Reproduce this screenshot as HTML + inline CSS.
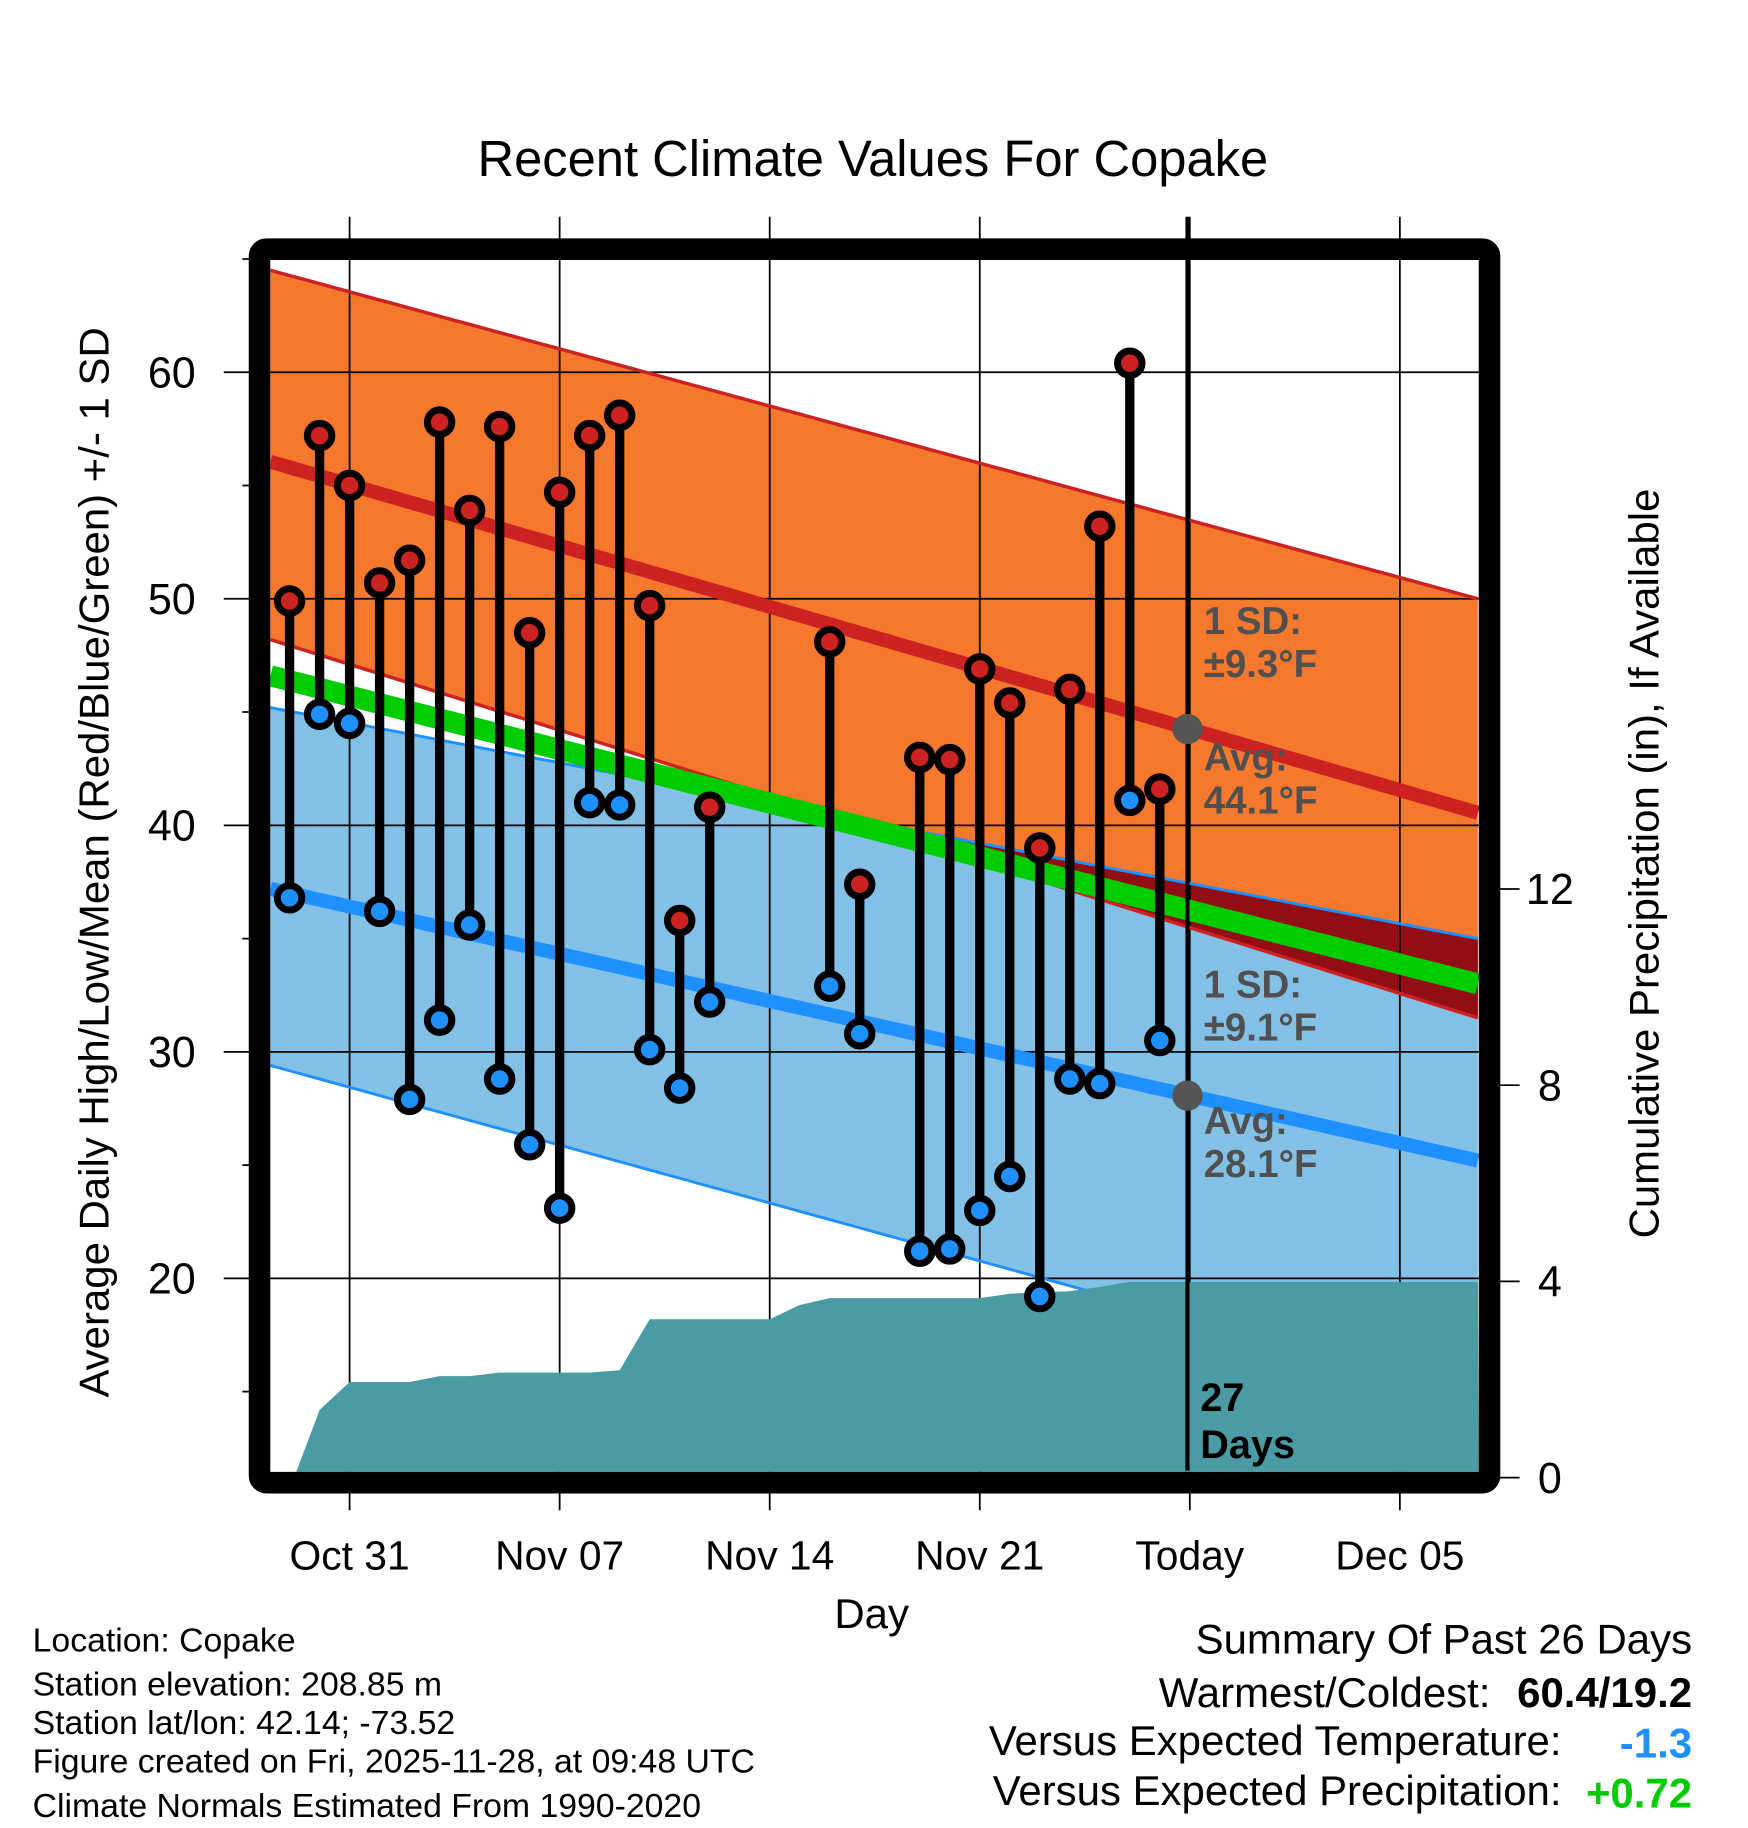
<!DOCTYPE html>
<html><head><meta charset="utf-8"><style>
html,body{margin:0;padding:0;background:#fff}
svg{display:block;font-family:"Liberation Sans",Arial,sans-serif}
</style></head><body>
<svg id="chart" width="1748" height="1828" viewBox="0 0 1500 1568.6" xmlns="http://www.w3.org/2000/svg">
<g id="fills"></g><g id="grid"></g><g id="lines"></g><g id="precip"></g><g id="marks"></g><g id="frame"></g><g id="labels"></g>
</svg>
<script>
// ---- data ----
const normDays = [-2.64, 17.5, 37.6];
const highPlusSD = [64.5, 57.25, 50.0];
const highMean = [56.05, 48.3, 40.55];
const highMinusSD = [48.2, 39.85, 31.5];
const lowPlusSD = [45.2, 40.1, 35.0];
const lowMean = [37.2, 31.2, 25.2];
const lowMinusSD = [29.4, 22.05, 14.7];
const overallMean = [46.6, 39.8, 33.0];
const obsDays = [-2,-1,0,1,2,3,4,5,6,7,8,9,10,11,12,16,17,19,20,21,22,23,24,25,26,27];
const obsHigh = [49.9,57.2,55.0,50.7,51.7,57.8,53.9,57.6,48.5,54.7,57.2,58.1,49.7,35.8,40.8,48.1,37.4,43.0,42.9,46.9,45.4,39.0,46.0,53.2,60.4,41.6];
const obsLow = [36.8,44.9,44.5,36.2,27.9,31.4,35.6,28.8,25.9,23.1,41.0,40.9,30.1,28.4,32.2,32.9,30.8,21.2,21.3,23.0,24.5,19.2,28.8,28.6,41.1,30.5];
const precipDays = [-1.85,-1,0,1,2,3,4,5,6,7,8,9,10,11,12,13,14,15,16,17,18,19,20,21,22,23,24,25,26,27,37.6];
const precipCum = [0,1.38,1.95,1.95,1.95,2.07,2.07,2.14,2.14,2.14,2.14,2.19,3.23,3.23,3.23,3.23,3.23,3.52,3.66,3.66,3.66,3.66,3.66,3.66,3.75,3.78,3.8,3.89,3.99,3.99,3.99];
const tempTicks = [20,30,40,50,60];
const precipTicks = [0,4,8,12];
const dateTicks = [0,7,14,21,28,35];
const dateLabels = ["Oct 31","Nov 07","Nov 14","Nov 21","Today","Dec 05"];

// ---- axes ----
const X0=232, X1=1269, Y0=223, Y1=1263;
const xd = d => 300 + 25.75*d;
const yT = t => 513.8 - (t-50)*19.44;
const yP = p => 1268 - p*42.1;
const NS="http://www.w3.org/2000/svg";
function mk(tag, attrs, parent){const e=document.createElementNS(NS,tag);for(const k in attrs)e.setAttribute(k,attrs[k]);document.getElementById(parent).appendChild(e);return e;}
function interp(arr,d){for(let i=0;i<normDays.length-1;i++){if(d<=normDays[i+1]||i==normDays.length-2){const f=(d-normDays[i])/(normDays[i+1]-normDays[i]);return arr[i]+f*(arr[i+1]-arr[i]);}}}
const samples=[];for(let i=0;i<=80;i++)samples.push(normDays[0]+(normDays[normDays.length-1]-normDays[0])*i/80);
function band(up,lo){let p=samples.map(d=>xd(d)+','+yT(interp(up,d)));let q=samples.slice().reverse().map(d=>xd(d)+','+yT(interp(lo,d)));return p.concat(q).join(' ');}
function line(arr){return samples.map(d=>xd(d)+','+yT(interp(arr,d))).join(' ');}

let e;
e=mk('polygon',{points:band(lowPlusSD,lowMinusSD),fill:'#82c0e6'},'fills');

e=mk('polygon',{points:band(highPlusSD,highMinusSD),fill:'#f5782d'},'fills');

{const top=[],bot=[];samples.forEach(d=>{const a=Math.min(interp(highPlusSD,d),interp(lowPlusSD,d));const b=Math.max(interp(highMinusSD,d),interp(lowMinusSD,d));if(a>b){top.push(xd(d)+','+yT(a));bot.unshift(xd(d)+','+yT(b));}});
if(top.length){e=mk('polygon',{points:top.concat(bot).join(' '),fill:'#920e14'},'fills');
}}

// grid
dateTicks.forEach(d=>{e=mk('line',{x1:xd(d),x2:xd(d),y1:186,y2:1296,stroke:'#000','stroke-width':1.5},'grid');
});
tempTicks.forEach(t=>{e=mk('line',{x1:192,x2:X1,y1:yT(t),y2:yT(t),stroke:'#000','stroke-width':1.5},'grid');
});
[15,25,35,45,55,65].forEach(t=>{mk('line',{x1:208,x2:222,y1:yT(t),y2:yT(t),stroke:'#000','stroke-width':1.5},'grid');});
precipTicks.forEach(p=>{e=mk('line',{x1:1278,x2:1304,y1:yP(p),y2:yP(p),stroke:'#000','stroke-width':1.5},'grid');
});

// normal lines
[[lowPlusSD,'#1e90ff',2.5,'low-plus-sd-line'],[lowMinusSD,'#1e90ff',2.5,'low-minus-sd-line'],[highPlusSD,'#cc2222',3,'high-plus-sd-line'],[highMinusSD,'#cc2222',3,'high-minus-sd-line'],[highMean,'#cc2222',12,'mean-high-line'],[lowMean,'#1e90ff',12,'mean-low-line'],[overallMean,'#00cc00',18,'mean-line']].forEach(s=>{
e=mk('polyline',{points:line(s[0]),fill:'none',stroke:s[1],'stroke-width':s[2]},'lines');
});

// precip
{const pts=precipDays.map((d,i)=>xd(d)+','+yP(precipCum[i]));pts.push(X1+','+Y1,xd(precipDays[0])+','+Y1);
e=mk('polygon',{points:pts.join(' '),fill:'#4a9ba4'},'precip');
}

// today line & avg dots
e=mk('line',{x1:1019,x2:1019,y1:186,y2:1262,stroke:'#000','stroke-width':3.5},'marks');

e=mk('circle',{cx:1019,cy:yT(interp(highMean,28)),r:13,fill:'#555'},'marks');

e=mk('circle',{cx:1019,cy:yT(interp(lowMean,28)),r:13,fill:'#555'},'marks');


// observations
obsDays.forEach((d,i)=>{const x=xd(d);
e=mk('line',{x1:x,x2:x,y1:yT(obsHigh[i]),y2:yT(obsLow[i]),stroke:'#000','stroke-width':8},'marks');

e=mk('circle',{cx:x,cy:yT(obsHigh[i]),r:10.5,fill:'#cc2222',stroke:'#000','stroke-width':6},'marks');

e=mk('circle',{cx:x,cy:yT(obsLow[i]),r:10.5,fill:'#1e90ff',stroke:'#000','stroke-width':6},'marks');

});

// frame
e=mk('rect',{x:222.7,y:213.8,width:1055.5,height:1058.5,rx:6,fill:'none',stroke:'#000','stroke-width':18.5},'frame');


// tick labels
tempTicks.forEach(t=>{e=mk('text',{x:168,y:yT(t)+13,'font-size':37,'text-anchor':'end'},'labels');e.textContent=t;
});
precipTicks.forEach(p=>{e=mk('text',{x:1330,y:yP(p)+13,'font-size':37,'text-anchor':'middle'},'labels');e.textContent=p;
});
dateTicks.forEach((d,i)=>{e=mk('text',{x:xd(d),y:1347,'font-size':35,'text-anchor':'middle'},'labels');e.textContent=dateLabels[i];
});
</script>
<svg style="position:absolute;left:0;top:0" width="1748" height="1828" viewBox="0 0 1500 1568.6" xmlns="http://www.w3.org/2000/svg" font-family="Liberation Sans, Arial, sans-serif">
<text x="749" y="151" font-size="43.5" text-anchor="middle">Recent Climate Values For Copake</text>
<text transform="translate(93,740) rotate(-90)" font-size="36" text-anchor="middle">Average Daily High/Low/Mean (Red/Blue/Green) +/- 1 SD</text>
<text transform="translate(1423,741) rotate(-90)" font-size="36" text-anchor="middle">Cumulative Precipitation (in), If Available</text>
<text x="748" y="1397" font-size="36" text-anchor="middle">Day</text>
<g font-size="33" font-weight="bold" fill="#505050">
<text x="1033" y="544">1 SD:</text>
<text x="1033" y="581">±9.3°F</text>
<text x="1033" y="661">Avg:</text>
<text x="1033" y="698">44.1°F</text>
<text x="1033" y="856">1 SD:</text>
<text x="1033" y="893">±9.1°F</text>
<text x="1033" y="973">Avg:</text>
<text x="1033" y="1010">28.1°F</text>
</g>
<text x="1030" y="1211" font-size="34" font-weight="bold">27</text>
<text x="1030" y="1251" font-size="34" font-weight="bold">Days</text>
<g font-size="29">
<text x="28" y="1417">Location: Copake</text>
<text x="28" y="1455">Station elevation: 208.85 m</text>
<text x="28" y="1488">Station lat/lon: 42.14; -73.52</text>
<text x="28" y="1521">Figure created on Fri, 2025-11-28, at 09:48 UTC</text>
<text x="28" y="1559">Climate Normals Estimated From 1990-2020</text>
</g>
<g font-size="36" text-anchor="end">
<text x="1452" y="1419">Summary Of Past 26 Days</text>
<text x="1279" y="1465">Warmest/Coldest:</text>
<text x="1452" y="1465" font-weight="bold">60.4/19.2</text>
<text x="1340" y="1506">Versus Expected Temperature:</text>
<text x="1452" y="1508" font-weight="bold" fill="#1e90ff">-1.3</text>
<text x="1340" y="1549">Versus Expected Precipitation:</text>
<text x="1452" y="1551" font-weight="bold" fill="#00cc00">+0.72</text>
</g>
</svg>
</body></html>
